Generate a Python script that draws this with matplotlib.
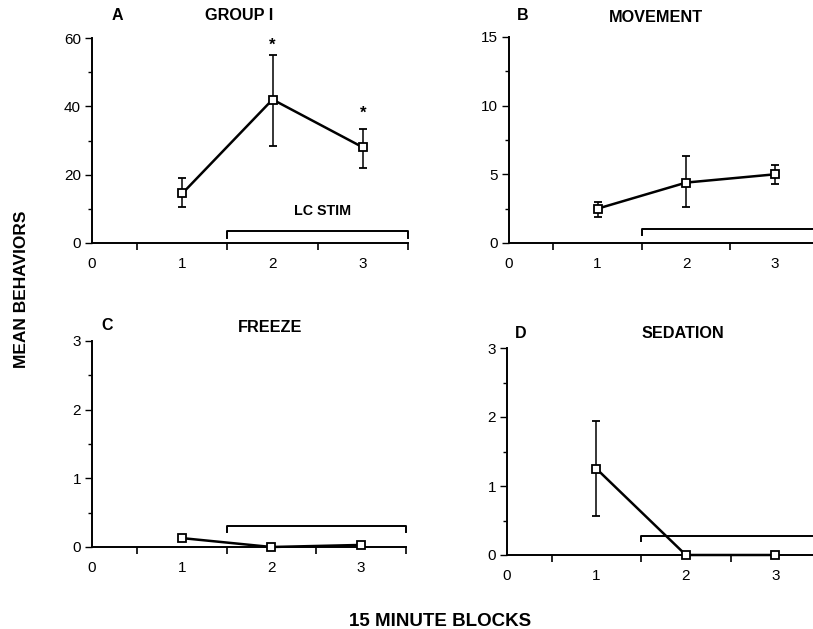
import matplotlib
matplotlib.use("Agg")
import matplotlib.pyplot as plt

plt.rcParams['font.family'] = ['Liberation Sans', 'DejaVu Sans']

blocks = [1, 2, 3]

# Panel A: GROUP I
a_mean = [14.5, 42.0, 28.0]
a_low = [10.5, 28.5, 22.0]
a_high = [19.0, 55.0, 33.5]
# Panel B: MOVEMENT
b_mean = [2.5, 4.4, 5.0]
b_low = [1.9, 2.6, 4.3]
b_high = [3.0, 6.3, 5.7]
# Panel C: FREEZE
c_mean = [0.13, 0.0, 0.03]
c_low = [0.13, 0.0, 0.03]
c_high = [0.13, 0.0, 0.03]
# Panel D: SEDATION
d_mean = [1.25, 0.0, 0.0]
d_low = [0.57, 0.0, 0.0]
d_high = [1.94, 0.0, 0.0]

panels = [
    dict(letter='A', title='GROUP I', mean=a_mean, low=a_low, high=a_high,
         ymax=60, ystep=20, bracket=3.5, tick=2.0,
         rect=[92, 38, 408, 243], stars=[(2, 58), (3, 38)], stim_label=(2.55, 9.5),
         letter_px=(117, 15), title_px=(239, 15)),
    dict(letter='B', title='MOVEMENT', mean=b_mean, low=b_low, high=b_high,
         ymax=15, ystep=5, bracket=1.05, tick=0.5,
         rect=[509, 37, 819, 243], stars=[], stim_label=None,
         letter_px=(523, 16), title_px=(656, 17)),
    dict(letter='C', title='FREEZE', mean=c_mean, low=c_low, high=c_high,
         ymax=3, ystep=1, bracket=0.3, tick=0.08,
         rect=[92, 341, 406, 547], stars=[], stim_label=None,
         letter_px=(107, 325), title_px=(270, 327)),
    dict(letter='D', title='SEDATION', mean=d_mean, low=d_low, high=d_high,
         ymax=3, ystep=1, bracket=0.28, tick=0.08,
         rect=[507, 348, 820, 555], stars=[], stim_label=None,
         letter_px=(521, 333), title_px=(683, 333)),
]

W, H = 813, 629
fig = plt.figure(figsize=(W / 100, H / 100), dpi=100)

for p in panels:
    x0, y0, x1, y1 = p['rect']
    ax = fig.add_axes([x0 / W, 1 - y1 / H, (x1 - x0) / W, (y1 - y0) / H])
    ax.set_xlim(0, 3.5)
    ax.set_ylim(0, p['ymax'])
    for s in ['top', 'right']:
        ax.spines[s].set_visible(False)
    for s in ['left', 'bottom']:
        ax.spines[s].set_linewidth(1.4)
    yerr = [[m - l for m, l in zip(p['mean'], p['low'])],
            [h - m for m, h in zip(p['mean'], p['high'])]]
    ax.errorbar(blocks, p['mean'], yerr=yerr, color='black', lw=1.8,
                elinewidth=1.1, capsize=3, capthick=1.1,
                marker='s', ms=5.5, mfc='white', mec='black', mew=1.3,
                clip_on=False, zorder=3)
    # LC STIM bracket
    b = p['bracket']
    ax.plot([1.5, 1.5, 3.5, 3.5], [b - p['tick'], b, b, b - p['tick']],
            color='black', lw=1.4, clip_on=False)
    if p['stim_label']:
        ax.text(p['stim_label'][0], p['stim_label'][1], 'LC STIM',
                ha='center', va='center', fontsize=10.3, fontweight='bold')
    for sx, sy in p['stars']:
        ax.text(sx, sy, '*', ha='center', va='center', fontsize=12,
                fontweight='bold')
    # ticks
    ax.set_xticks([0, 1, 2, 3])
    ax.set_xticklabels(['0', '1', '2', '3'])
    ax.tick_params(axis='x', which='major', length=0, pad=10, labelsize=11)
    ax.set_xticks([0.5, 1.5, 2.5, 3.5], minor=True)
    ax.tick_params(axis='x', which='minor', length=5, width=1.2, direction='out')
    yt = list(range(0, p['ymax'] + 1, p['ystep']))
    ax.set_yticks(yt)
    ax.set_yticklabels([str(v) for v in yt])
    ax.tick_params(axis='y', which='major', length=5, width=1.0,
                   direction='out', labelsize=11, pad=3)
    ax.set_yticks([v + p['ystep'] / 2 for v in yt[:-1]], minor=True)
    ax.tick_params(axis='y', which='minor', length=3, width=1.0, direction='out')
    fig.text(p['letter_px'][0] / W, 1 - p['letter_px'][1] / H, p['letter'],
             ha='center', va='center', fontsize=11.5, fontweight='bold')
    fig.text(p['title_px'][0] / W, 1 - p['title_px'][1] / H, p['title'],
             ha='center', va='center', fontsize=11.7, fontweight='bold')

fig.text(22 / W, 1 - 289 / H, 'MEAN BEHAVIORS', rotation=90, ha='center',
         va='center', fontsize=12.5, fontweight='bold')
fig.text(440 / W, 1 - 621 / H, '15 MINUTE BLOCKS', ha='center',
         va='center', fontsize=13.5, fontweight='bold')

fig.savefig('out.png', dpi=100)
